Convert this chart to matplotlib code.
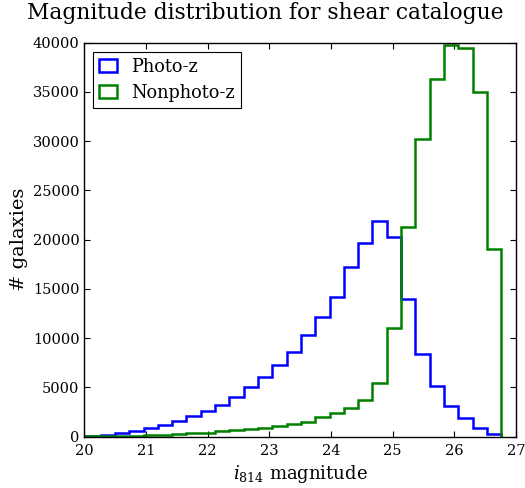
import numpy as np
import matplotlib
matplotlib.use("Agg")
import matplotlib.pyplot as plt

plt.rcParams['font.family'] = ['DejaVu Serif']
plt.rcParams['mathtext.fontset'] = 'dejavuserif'

# Bin edges (magnitude) and counts per bin
bin_edges = np.linspace(19.8, 26.76, 31)
photoz_counts = [50, 70, 200, 410, 580, 920, 1190, 1620, 2100, 2640,
                 3250, 4060, 5010, 6020, 7300, 8560, 10280, 12110, 14140, 17180,
                 19710, 21900, 20280, 13930, 8390, 5140, 3110, 1860, 915, 240]
nonphotoz_counts = [10, 30, 50, 80, 110, 150, 220, 290, 390, 420,
                    560, 660, 800, 930, 1100, 1310, 1520, 2030, 2430, 2940,
                    3720, 5410, 11050, 21300, 30260, 36340, 39720, 39480, 34980, 19030]
labels = ['Photo-z', 'Nonphoto-z']
colors = ['#0000ff', '#008000']

centers = 0.5 * (bin_edges[:-1] + bin_edges[1:])

fig = plt.figure(figsize=(5.25, 4.88), dpi=100)
ax = fig.add_axes([0.1606, 0.1051, 0.983 - 0.1606, 0.9125 - 0.1051])

for counts, lab, col in zip([photoz_counts, nonphotoz_counts], labels, colors):
    ax.hist(centers, bins=bin_edges, weights=counts, histtype='step',
            color=col, linewidth=1.8, label=lab)

ax.set_xlim(20, 27)
ax.set_ylim(0, 40000)
ax.set_xticks(range(20, 28))
ax.set_yticks(range(0, 40001, 5000))
ax.tick_params(direction='in', top=True, right=True, labelsize=10.5, length=4, width=0.8)
ax.tick_params(axis='x', pad=5)
for sp in ax.spines.values():
    sp.set_linewidth(1.0)

fig.text(0.506, 0.973, 'Magnitude distribution for shear catalogue',
         fontsize=15.7, ha='center', va='center')
ax.set_xlabel(r'$i_{814}$ magnitude', fontsize=13)
ax.set_ylabel('# galaxies', fontsize=14, labelpad=3)

leg = ax.legend(loc='upper left', fontsize=12.8, fancybox=False, framealpha=1,
                edgecolor='black', borderaxespad=0.5, handlelength=1.0,
                labelspacing=0.45, borderpad=0.35)
leg.get_frame().set_linewidth(0.8)

fig.savefig('out.png', dpi=100, facecolor='white')
